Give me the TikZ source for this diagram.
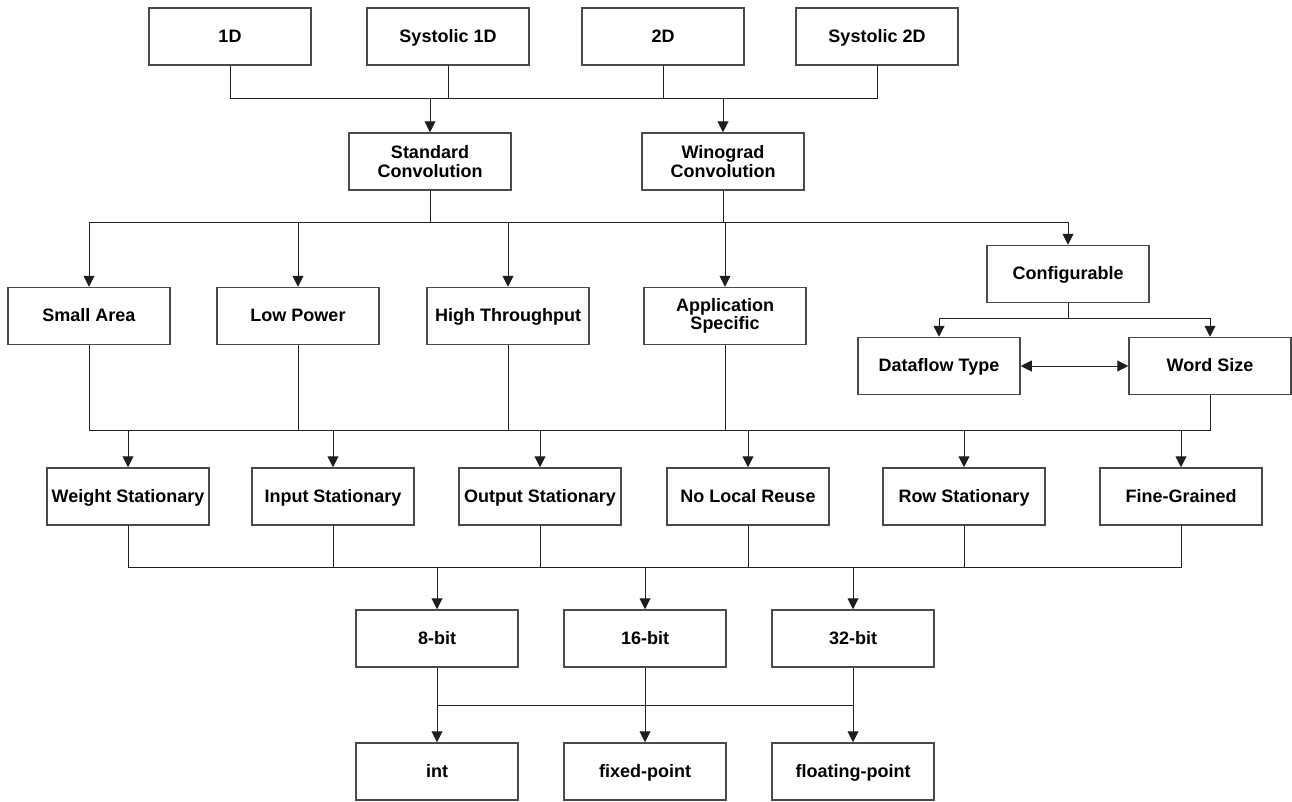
\documentclass[tikz,border=0pt]{standalone}
\usepackage{fontspec}
\setmainfont{Liberation Sans}
\usetikzlibrary{arrows.meta}
\definecolor{boxgray}{HTML}{4A4A4A}
\definecolor{wiregray}{HTML}{1E1E1E}
\begin{document}
\begin{tikzpicture}[x=1pt,y=-1pt,
  box/.style={draw=boxgray, line width=1.5pt, fill=white, minimum width=162pt,
    minimum height=57pt, inner sep=0pt, align=center,
    font=\bfseries\fontsize{18}{18.5}\selectfont},
  onebox/.style={box, text height=13pt, text depth=1.5pt},
  wire/.style={draw=wiregray, line width=1pt},
  arr/.style={wire, -{Triangle[length=11pt,width=11pt]}},
  biarr/.style={wire, {Triangle[length=11pt,width=11pt]}-{Triangle[length=11pt,width=11pt]}},
]
\useasboundingbox (0,0) rectangle (1292,801);

% convolution dimensionality
\node[onebox] (d1)  at (230,36.5) {1D};
\node[onebox] (s1d) at (448,36.5) {Systolic 1D};
\node[onebox] (d2)  at (663,36.5) {2D};
\node[onebox] (s2d) at (877,36.5) {Systolic 2D};

% convolution algorithms
\node[box] (sc) at (430,161.5) {Standard\\Convolution};
\node[box] (wc) at (723,161.5) {Winograd\\Convolution};

% design goals
\node[onebox] (sa) at (89,316)  {Small Area};
\node[onebox] (lp) at (298,316) {Low Power};
\node[onebox] (ht) at (508,316) {High Throughput};
\node[box] (as) at (725,316) {Application\\Specific};
\node[onebox] (cf) at (1068,274) {Configurable};
\node[onebox] (dt) at (939,366) {Dataflow Type};
\node[onebox] (wz) at (1210,366) {Word Size};

% dataflows
\node[onebox] (wst) at (128,496.5)  {Weight Stationary};
\node[onebox] (ist) at (333,496.5)  {Input Stationary};
\node[onebox] (ost) at (540,496.5)  {Output Stationary};
\node[onebox] (nlr) at (748,496.5)  {No Local Reuse};
\node[onebox] (rst) at (964,496.5)  {Row Stationary};
\node[onebox] (fgr) at (1181,496.5) {Fine-Grained};

% word sizes
\node[onebox] (b8)  at (437,638.5) {8-bit};
\node[onebox] (b16) at (645,638.5) {16-bit};
\node[onebox] (b32) at (853,638.5) {32-bit};

% number formats
\node[onebox] (ti) at (437,771.5) {int};
\node[onebox] (tx) at (645,771.5) {fixed-point};
\node[onebox] (tf) at (853,771.5) {floating-point};

% bus levels
\coordinate (bus1) at (0,98);
\coordinate (bus2) at (0,222);
\coordinate (bus3) at (0,318);
\coordinate (bus4) at (0,430);
\coordinate (bus5) at (0,567);
\coordinate (bus6) at (0,705);

% dimensionality -> algorithms
\draw[wire] (d1.south) -- (d1.south |- bus1) -- (s2d.south |- bus1) -- (s2d.south);
\draw[wire] (s1d.south) -- (s1d.south |- bus1);
\draw[wire] (d2.south) -- (d2.south |- bus1);
\draw[arr] (sc.north |- bus1) -- (sc.north);
\draw[arr] (wc.north |- bus1) -- (wc.north);

% algorithms -> design goals
\draw[wire] (sc.south) -- (sc.south |- bus2);
\draw[wire] (wc.south) -- (wc.south |- bus2);
\draw[wire] (sa.north |- bus2) -- (cf.north |- bus2);
\draw[arr] (sa.north |- bus2) -- (sa.north);
\draw[arr] (lp.north |- bus2) -- (lp.north);
\draw[arr] (ht.north |- bus2) -- (ht.north);
\draw[arr] (as.north |- bus2) -- (as.north);
\draw[arr] (cf.north |- bus2) -- (cf.north);

% configurable branch
\draw[wire] (cf.south) -- (cf.south |- bus3);
\draw[wire] (dt.north |- bus3) -- (wz.north |- bus3);
\draw[arr] (dt.north |- bus3) -- (dt.north);
\draw[arr] (wz.north |- bus3) -- (wz.north);
\draw[biarr] (dt.east) -- (wz.west);

% design goals -> dataflows
\draw[wire] (sa.south) -- (sa.south |- bus4) -- (wz.south |- bus4) -- (wz.south);
\draw[wire] (lp.south) -- (lp.south |- bus4);
\draw[wire] (ht.south) -- (ht.south |- bus4);
\draw[wire] (as.south) -- (as.south |- bus4);
\draw[arr] (wst.north |- bus4) -- (wst.north);
\draw[arr] (ist.north |- bus4) -- (ist.north);
\draw[arr] (ost.north |- bus4) -- (ost.north);
\draw[arr] (nlr.north |- bus4) -- (nlr.north);
\draw[arr] (rst.north |- bus4) -- (rst.north);
\draw[arr] (fgr.north |- bus4) -- (fgr.north);

% dataflows -> word sizes
\draw[wire] (wst.south) -- (wst.south |- bus5) -- (fgr.south |- bus5) -- (fgr.south);
\draw[wire] (ist.south) -- (ist.south |- bus5);
\draw[wire] (ost.south) -- (ost.south |- bus5);
\draw[wire] (nlr.south) -- (nlr.south |- bus5);
\draw[wire] (rst.south) -- (rst.south |- bus5);
\draw[arr] (b8.north |- bus5) -- (b8.north);
\draw[arr] (b16.north |- bus5) -- (b16.north);
\draw[arr] (b32.north |- bus5) -- (b32.north);

% word sizes -> number formats
\draw[wire] (b8.south) -- (b8.south |- bus6) -- (b32.south |- bus6) -- (b32.south);
\draw[arr] (b8.south |- bus6) -- (ti.north);
\draw[arr] (b16.south) -- (tx.north);
\draw[arr] (b32.south |- bus6) -- (tf.north);
\end{tikzpicture}
\end{document}
